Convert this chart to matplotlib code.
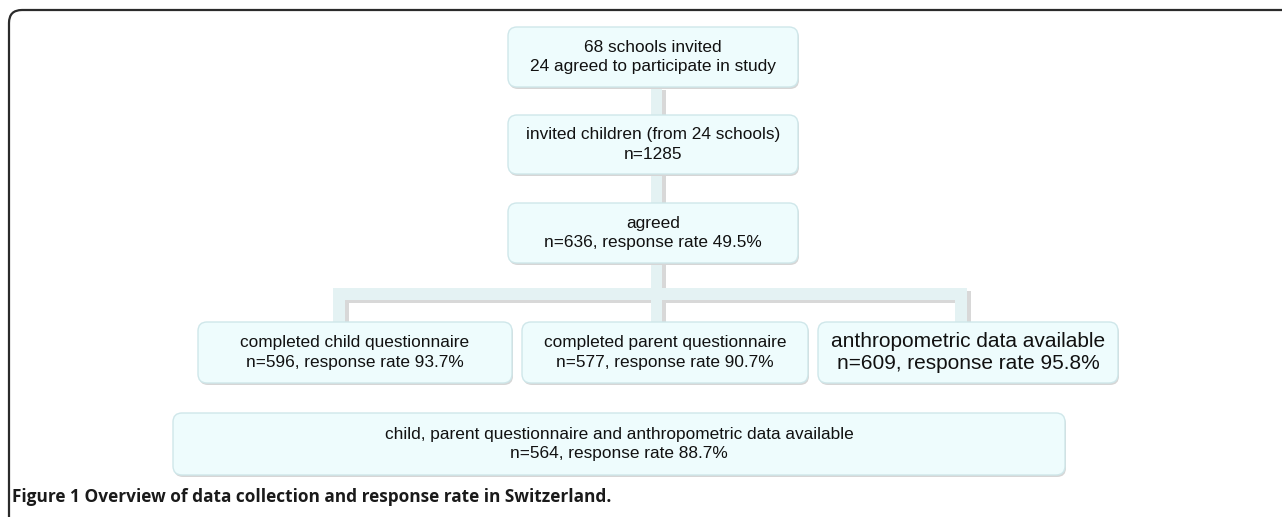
import matplotlib
matplotlib.use("Agg")
import matplotlib.pyplot as plt
from matplotlib.patches import FancyBboxPatch, Rectangle, PathPatch
from matplotlib.path import Path

# ---- content ----
stage_labels = [
    "68 schools invited\n24 agreed to participate in study",
    "invited children (from 24 schools)\nn=1285",
    "agreed\nn=636, response rate 49.5%",
]
branch_labels = [
    "completed child questionnaire\nn=596, response rate 93.7%",
    "completed parent questionnaire\nn=577, response rate 90.7%",
    "anthropometric data available\nn=609, response rate 95.8%",
]
final_label = "child, parent questionnaire and anthropometric data available\nn=564, response rate 88.7%"
caption_bold = "Figure 1"
caption_rest = " Overview of data collection and response rate in Switzerland."

# ---- layout (pixels) ----
W, H = 1282, 517
stage_boxes = [(508, 27, 290, 60), (508, 115, 290, 59), (508, 203, 290, 60)]
branch_boxes = [(198, 322, 314, 61), (522, 322, 286, 61), (818, 322, 300, 61)]
final_box = (173, 413, 892, 62)
branch_sizes = [12.4, 12.4, 15.0]
BOX_FS = 12.4

fig = plt.figure(figsize=(W / 100, H / 100), dpi=100)
ax = fig.add_axes([0, 0, 1, 1])
ax.set_xlim(0, W)
ax.set_ylim(H, 0)
ax.axis("off")

TEAL = "#e4f2f3"
SHADOW = "#d8d8d8"
FILL = "#eefcfd"
EDGE = "#cfe7ea"
FONT = "Liberation Sans"

# outer frame with rounded top-left corner
r = 13
verts = [(9, H + 5), (9, 10 + r), (9, 10), (9 + r, 10), (W + 5, 10)]
codes = [Path.MOVETO, Path.LINETO, Path.CURVE3, Path.CURVE3, Path.LINETO]
ax.add_patch(PathPatch(Path(verts, codes), fill=False, edgecolor="#2b2b2b", lw=1.6, zorder=5))

# connectors (shadow then teal)
conn = [
    (651, 87, 11, 235),   # main vertical
    (333, 288, 634, 12),  # horizontal
    (333, 288, 12, 34),   # left drop
    (955, 288, 12, 34),   # right drop
]
for x, y, w, h in conn:
    ax.add_patch(Rectangle((x + 4, y + 3), w, h, facecolor=SHADOW, edgecolor="none", zorder=1))
for x, y, w, h in conn:
    ax.add_patch(Rectangle((x, y), w, h, facecolor=TEAL, edgecolor="none", zorder=2))


def box(x, y, w, h, text, size, ls):
    ax.add_patch(FancyBboxPatch((x + 1, y + 2), w, h, boxstyle="round,pad=0,rounding_size=9",
                                facecolor="#d6d6d6", edgecolor="none", zorder=3))
    ax.add_patch(FancyBboxPatch((x, y), w, h, boxstyle="round,pad=0,rounding_size=9",
                                facecolor=FILL, edgecolor=EDGE, lw=1.0, zorder=4))
    ax.text(x + w / 2, y + h / 2, text, ha="center", va="center", fontsize=size,
            family=FONT, color="#111111", linespacing=ls, zorder=6)


for (x, y, w, h), t in zip(stage_boxes, stage_labels):
    box(x, y, w, h, t, BOX_FS, 1.38)
for (x, y, w, h), t, s in zip(branch_boxes, branch_labels, branch_sizes):
    box(x, y, w, h, t, s, 1.38 if s < 14 else 1.2)
box(*final_box, final_label, BOX_FS, 1.38)

# caption (fit to reference width ~596 px)
cap_fs = 13.0
t1 = ax.text(12, 497, caption_bold, ha="left", va="center", fontsize=cap_fs,
             family="Open Sans", weight="bold", color="#1a1a1a")
t2 = ax.text(12, 497, caption_rest, ha="left", va="center", fontsize=cap_fs,
             family="Open Sans", weight="bold", color="#1a1a1a")
fig.canvas.draw()
total = t1.get_window_extent().width + t2.get_window_extent().width
cap_fs = cap_fs * 596 / total
t1.set_fontsize(cap_fs)
t2.set_fontsize(cap_fs)
fig.canvas.draw()
w1 = t1.get_window_extent().width
t2.set_x(12 + w1)

fig.savefig("out.png", dpi=100)
